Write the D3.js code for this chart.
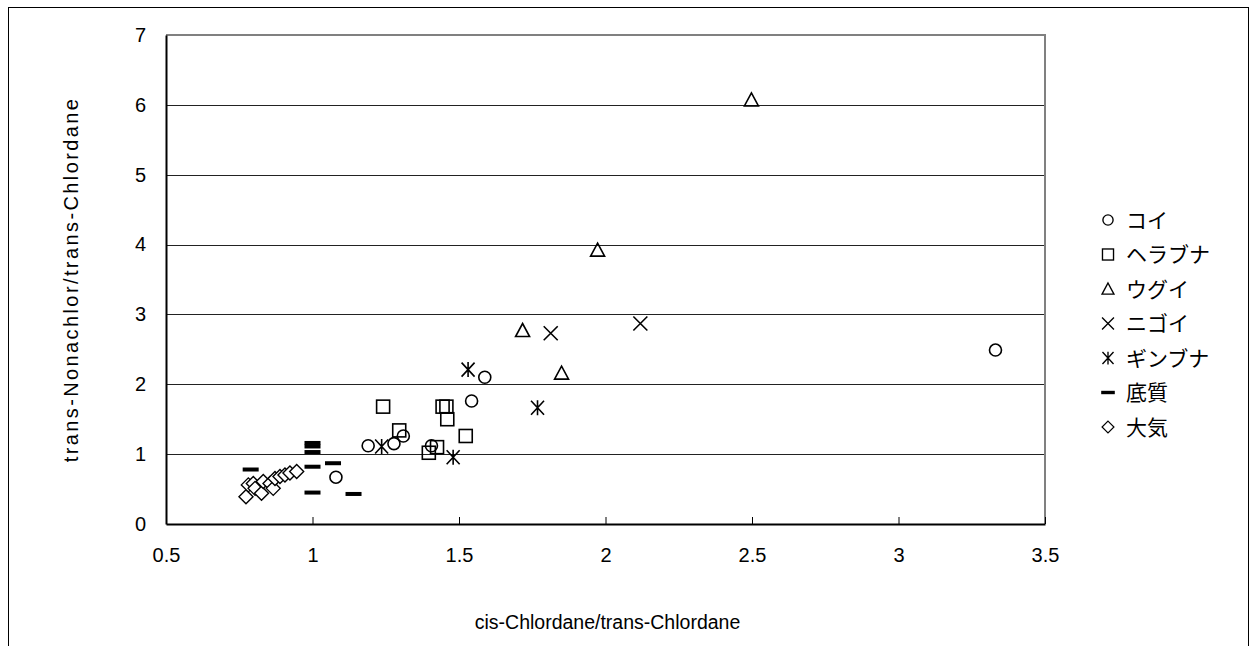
<!DOCTYPE html>
<html lang="ja">
<head>
  <meta charset="UTF-8">
  <title>Chlordane ratios</title>
  <script src="https://d3js.org/d3.v7.min.js"></script>
  <style>
    body { margin: 0; background: #fff; }
    svg text { font-family: "Liberation Sans", Arial, sans-serif; fill: #000; }
    .legend text { font-family: "Noto Sans CJK JP", sans-serif; }
  </style>
</head>
<body>
<svg id="chart" width="1256" height="646"></svg>
<script>
// [cis/trans-Chlordane, trans-Nonachlor/trans-Chlordane]
const koi = [[1.08, 0.67], [1.19, 1.12], [1.278, 1.15], [1.31, 1.26], [1.406, 1.12],
             [1.543, 1.76], [1.588, 2.10], [3.331, 2.49]];
const herabuna = [[1.241, 1.68], [1.296, 1.34], [1.397, 1.02], [1.425, 1.10], [1.444, 1.68],
                  [1.457, 1.68], [1.46, 1.50], [1.523, 1.26]];
const ugui = [[1.717, 2.77], [1.85, 2.16], [1.973, 3.92], [2.498, 6.07]];
const nigoi = [[1.813, 2.73], [2.119, 2.87]];
const ginbuna = [[1.236, 1.11], [1.48, 0.955], [1.531, 2.21], [1.768, 1.665]];
const teishitsu = [[0.789, 0.78], [1.0, 1.16], [1.0, 1.11], [1.0, 1.03], [1.0, 0.82],
                   [1.0, 0.45], [1.07, 0.87], [1.14, 0.43]];
const taiki = [[0.773, 0.39], [0.781, 0.56], [0.798, 0.58], [0.804, 0.51], [0.826, 0.44],
               [0.832, 0.61], [0.855, 0.58], [0.866, 0.51], [0.872, 0.65], [0.889, 0.68],
               [0.906, 0.70], [0.923, 0.73], [0.946, 0.75]];

const seriesNames = ["コイ", "ヘラブナ", "ウグイ", "ニゴイ", "ギンブナ", "底質", "大気"];
const seriesData = [koi, herabuna, ugui, nigoi, ginbuna, teishitsu, taiki];
const seriesShapes = ["circle", "square", "triangle", "x", "asterisk", "dash", "diamond"];

const xTicks = [0.5, 1, 1.5, 2, 2.5, 3, 3.5];
const yTicks = [0, 1, 2, 3, 4, 5, 6, 7];

const svg = d3.select("#chart");
const plot = { left: 166, right: 1045, top: 35, bottom: 524 };

// outer frame
svg.append("rect")
  .attr("x", 8.5).attr("y", 7.5)
  .attr("width", 1240).attr("height", 700)
  .attr("fill", "none").attr("stroke", "#000").attr("stroke-width", 1);

const x = d3.scaleLinear().domain([0.5, 3.5]).range([plot.left, plot.right]);
const y = d3.scaleLinear().domain([0, 7]).range([plot.bottom, plot.top]);

// gridlines
svg.append("g")
  .selectAll("line")
  .data(yTicks.slice(1, -1))
  .join("line")
  .attr("x1", plot.left).attr("x2", plot.right)
  .attr("y1", d => Math.round(y(d)) + 0.5).attr("y2", d => Math.round(y(d)) + 0.5)
  .attr("stroke", "#222").attr("stroke-width", 1);

// top and right border in gray
svg.append("path")
  .attr("d", `M${plot.left},${plot.top}H${plot.right}V${plot.bottom}`)
  .attr("fill", "none").attr("stroke", "#808080").attr("stroke-width", 2);

// axes
const xAxis = d3.axisBottom(x).tickValues(xTicks).tickSizeInner(-7).tickSizeOuter(0)
  .tickPadding(24).tickFormat(d => d);
const gx = svg.append("g").attr("transform", `translate(0,${plot.bottom})`).call(xAxis);
gx.select(".domain").attr("stroke", "#000").attr("stroke-width", 2);
gx.selectAll(".tick line").attr("stroke", "#000");
gx.selectAll("text").attr("font-size", 20).attr("font-family", "Liberation Sans, Arial, sans-serif");

const yAxis = d3.axisLeft(y).tickValues(yTicks).tickSizeInner(0).tickSizeOuter(0)
  .tickPadding(20).tickFormat(d => d);
const gy = svg.append("g").attr("transform", `translate(${plot.left},0)`).call(yAxis);
gy.select(".domain").attr("stroke", "#000").attr("stroke-width", 2);
gy.selectAll("text").attr("font-size", 20).attr("font-family", "Liberation Sans, Arial, sans-serif");

// axis titles
svg.append("text")
  .attr("x", (plot.left + plot.right) / 2 + 2).attr("y", 629)
  .attr("text-anchor", "middle").attr("font-size", 19.5)
  .text("cis-Chlordane/trans-Chlordane");

svg.append("text")
  .attr("transform", `translate(78,${(plot.top + plot.bottom) / 2}) rotate(-90)`)
  .attr("text-anchor", "middle").attr("font-size", 20).attr("letter-spacing", 2.4)
  .text("trans-Nonachlor/trans-Chlordane");

// marker drawing
function drawMarker(g, shape) {
  const s = { fill: "none", stroke: "#000", "stroke-width": 1.6 };
  let el;
  if (shape === "circle") el = g.append("circle").attr("r", 6);
  else if (shape === "square") el = g.append("rect").attr("x", -6.5).attr("y", -6.5).attr("width", 13).attr("height", 13);
  else if (shape === "triangle") el = g.append("path").attr("d", "M0,-7L7,6H-7Z");
  else if (shape === "x") el = g.append("path").attr("d", "M-7,-7L7,7M-7,7L7,-7");
  else if (shape === "asterisk") el = g.append("path").attr("d", "M-6.5,-7L6.5,7M-6.5,7L6.5,-7M0,-7.5V7.5");
  else if (shape === "diamond") el = g.append("path").attr("d", "M0,-7L7,0L0,7L-7,0Z");
  else if (shape === "dash") {
    g.append("rect").attr("x", -8).attr("y", -2).attr("width", 16).attr("height", 4).attr("fill", "#000");
    return;
  }
  Object.entries(s).forEach(([k, v]) => el.attr(k, v));
  if (shape === "diamond") el.attr("fill", "#fff").attr("stroke-width", 1.4);
}

seriesData.forEach((data, i) => {
  svg.append("g")
    .selectAll("g")
    .data(data)
    .join("g")
    .attr("transform", d => `translate(${x(d[0])},${y(d[1])})`)
    .each(function () { drawMarker(d3.select(this), seriesShapes[i]); });
});

// legend
const legend = svg.append("g").attr("class", "legend");
const legendY = d3.scalePoint().domain(seriesNames).range([220, 427]);
seriesNames.forEach((name, i) => {
  const row = legend.append("g").attr("transform", `translate(1108,${legendY(name)})`);
  const m = row.append("g").attr("transform", "scale(0.85)");
  drawMarker(m, seriesShapes[i]);
  row.append("text").attr("x", 18).attr("y", 7.5).attr("font-size", 21).text(name);
});
</script>
</body>
</html>
